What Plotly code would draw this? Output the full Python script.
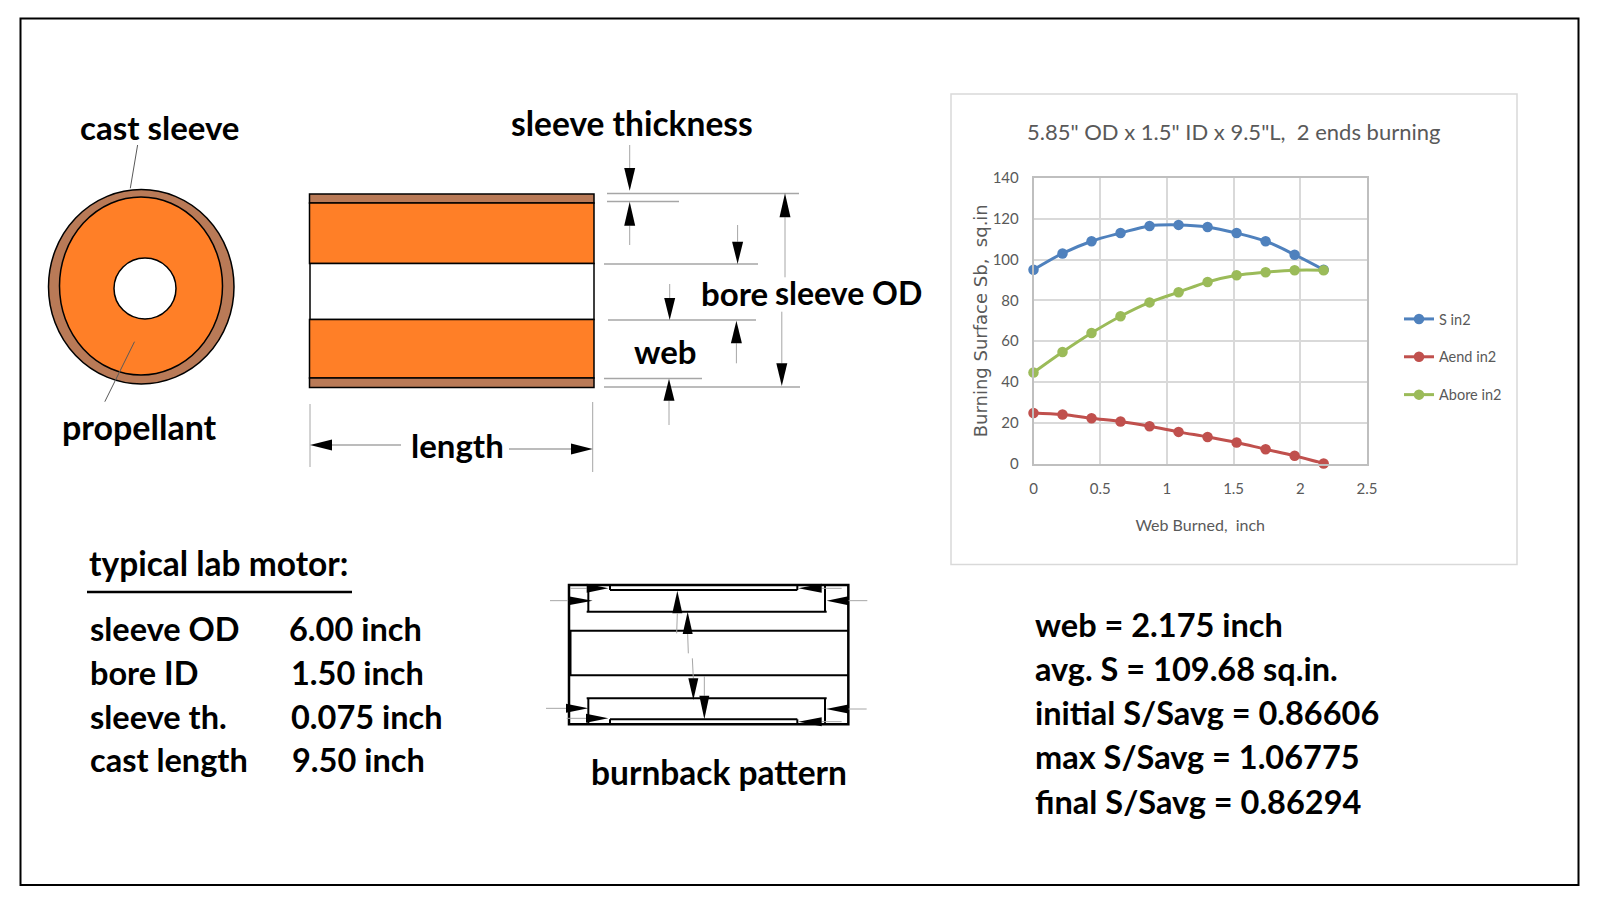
import plotly.graph_objects as go

web_burned = [0, 0.2175, 0.435, 0.6525, 0.87, 1.0875, 1.305, 1.5225, 1.74, 1.9575, 2.175]
s_in2 = [95, 103, 109, 113, 116.5, 117, 116, 113, 109, 102.4, 95]
aend_in2 = [24.8, 24, 22.2, 20.6, 18.3, 15.5, 13, 10.3, 7, 3.8, 0]
abore_in2 = [44.6, 54.7, 64, 72.2, 79, 84, 89, 92.3, 93.8, 94.8, 94.8]

series_names = ['S in2', 'Aend in2', 'Abore in2']
series_colors = ['#4F81BD', '#C0504D', '#9BBB59']

motor_rows = ['sleeve OD', 'bore ID', 'sleeve th.', 'cast length']
motor_values = ['6.00 inch', '1.50 inch', '0.075 inch', '9.50 inch']
result_lines = ['web = 2.175 inch', 'avg. S = 109.68 sq.in.', 'initial S/Savg = 0.86606',
                'max S/Savg = 1.06775', 'final S/Savg = 0.86294']

W, H = 1600, 912
ORANGE = '#FF7F27'
BROWN = '#B97A57'
GRAY = '#A6A6A6'
BOLD = 'Lato'
THIN = 'Lato'

shapes = []
annotations = []


def line(x0, y0, x1, y1, color='black', width=1.0):
    shapes.append(dict(type='line', xref='x2', yref='y2', x0=x0, y0=y0, x1=x1, y1=y1,
                       line=dict(color=color, width=width)))


def rect(x0, y0, x1, y1, fill='rgba(0,0,0,0)', color='black', width=1.5):
    shapes.append(dict(type='rect', xref='x2', yref='y2', x0=x0, y0=y0, x1=x1, y1=y1,
                       fillcolor=fill, line=dict(color=color, width=width)))


def ellipse(x0, y0, x1, y1, fill, color='black', width=1.5):
    shapes.append(dict(type='circle', xref='x2', yref='y2', x0=x0, y0=y0, x1=x1, y1=y1,
                       fillcolor=fill, line=dict(color=color, width=width)))


def vtri(x, tip, base, half=5.5):
    shapes.append(dict(type='path', xref='x2', yref='y2', fillcolor='black', line=dict(width=0),
                       path=f'M {x} {tip} L {x-half} {base} L {x+half} {base} Z'))


def htri(y, tip, base, half=5.5):
    shapes.append(dict(type='path', xref='x2', yref='y2', fillcolor='black', line=dict(width=0),
                       path=f'M {tip} {y} L {base} {y-half} L {base} {y+half} Z'))


def label(x, y, text, anchor='center', size=33):
    annotations.append(dict(xref='x2', yref='y2', x=x, y=y, text=text, showarrow=False,
                            xanchor=anchor, yanchor='middle',
                            font=dict(family=BOLD, size=size, color='black', weight='bold')))


# outer frame
rect(20.5, 18.5, 1578.5, 885, width=2)
# chart panel sits under the chart traces
shapes.append(dict(type='rect', xref='paper', yref='paper', layer='below',
                   x0=951 / W, x1=1517 / W, y0=1 - 564.5 / H, y1=1 - 94 / H,
                   fillcolor='white', line=dict(color='#D9D9D9', width=1.5)))

# end view of the motor
ellipse(48.5, 189.5, 234, 384, BROWN)
ellipse(59.5, 197, 222.5, 375, ORANGE)
ellipse(114, 258, 176, 319, 'white')
line(137.6, 145, 130.3, 188.3, '#595959')
line(134.5, 341.7, 104.8, 401.7, '#595959')

# side view of the motor
rect(309.5, 194, 594, 203, fill=BROWN)
rect(309.5, 203, 594, 263.5, fill=ORANGE)
rect(310, 263.5, 594, 319.5, fill='white')
rect(309.5, 319.5, 594, 378, fill=ORANGE)
rect(309.5, 378, 594, 387.5, fill=BROWN)

# dimension lines on the side view
line(607, 193.5, 799, 193.5, GRAY, 1.5)
line(607, 201.5, 679, 201.5, GRAY, 1.5)
line(604, 264, 758, 264, GRAY, 1.5)
line(608, 320, 756, 320, GRAY, 1.5)
line(604, 378.5, 702, 378.5, GRAY, 1.5)
line(604, 387, 800, 387, GRAY, 1.5)
line(629.7, 145, 629.7, 168, GRAY)
vtri(629.7, 190.7, 168)
line(629.7, 225.7, 629.7, 245, GRAY)
vtri(629.7, 201.7, 225.7)
line(737.6, 225, 737.6, 241.7, GRAY)
vtri(737.6, 264, 241.7)
line(669.7, 284, 669.7, 298, GRAY)
vtri(669.7, 320, 298)
line(736.4, 343.3, 736.4, 363.3, GRAY)
vtri(736.4, 320.7, 343.3)
line(785, 217.3, 785, 277.3, GRAY)
vtri(785, 193.3, 217.3)
line(781.8, 311.7, 781.8, 363.3, GRAY)
vtri(781.8, 386, 363.3)
line(669, 400.7, 669, 425, GRAY)
vtri(669, 378.7, 400.7)
line(310, 404, 310, 467, GRAY)
line(592.7, 402, 592.7, 472, GRAY)
line(332, 445, 401, 445, GRAY, 1.5)
htri(445, 310, 332)
line(509, 449, 571, 449, GRAY, 1.5)
htri(449, 592.7, 571)

label(159.5, 126.5, 'cast sleeve')
label(139.5, 426.5, 'propellant', size=34)
label(632, 122.5, 'sleeve thickness', size=33.5)
label(734.5, 292.5, 'bore')
label(848.5, 292.5, 'sleeve OD', size=32)
label(665.5, 350.5, 'web')
label(457.5, 444.5, 'length')

# typical lab motor table
label(87, 563, 'typical lab motor:', 'left', 33.5)
line(87, 592, 352, 592, 'black', 2.5)
row_y = [628, 672, 716, 759.5]
value_x = [287, 289, 289, 290]
for name, val, yy, xx in zip(motor_rows, motor_values, row_y, value_x):
    label(88, yy, name, 'left', 32.5)
    label(xx, yy, val, 'left', 32.5)

# burnback sketch, reads as crop pixels
def bx(v):
    return 540 + v / 3


def by(v):
    return 570 + v / 3


rect(bx(87), by(45), bx(925), by(463), width=2.5)
line(bx(87), by(182), bx(925), by(182), width=2)
line(bx(87), by(316), bx(925), by(316), width=2)
line(bx(90), by(182), bx(90), by(316), width=3)
line(bx(145), by(45), bx(145), by(125), width=2)
line(bx(140), by(125), bx(860), by(125), width=2)
line(bx(855), by(45), bx(855), by(125), width=2)
line(bx(210), by(45), bx(210), by(60), width=2)
line(bx(210), by(60), bx(772), by(60), width=2)
line(bx(772), by(45), bx(772), by(60), width=2)
line(bx(145), by(463), bx(145), by(385), width=2)
line(bx(140), by(385), bx(860), by(385), width=2)
line(bx(855), by(463), bx(855), by(385), width=2)
line(bx(210), by(463), bx(210), by(448), width=2)
line(bx(210), by(448), bx(772), by(448), width=2)
line(bx(772), by(463), bx(772), by(448), width=2)

for tip, base, yy, x0, x1 in [(205, 140, 55, 90, 140), (158, 85, 92, 30, 85),
                              (775, 845, 55, 845, 905), (860, 925, 92, 925, 982),
                              (145, 78, 415, 18, 78), (205, 138, 445, 80, 138),
                              (858, 925, 417, 925, 980), (775, 845, 455, 845, 905)]:
    line(bx(x0), by(yy), bx(x1), by(yy), GRAY)
    htri(by(yy), bx(tip), bx(base), 4.5)

vtri(bx(412), by(62), by(130), 5)
line(bx(412), by(130), bx(410), by(190), GRAY)
vtri(bx(443), by(125), by(192), 5)
line(bx(443), by(192), bx(445), by(250), GRAY)
line(bx(457), by(265), bx(460), by(325), GRAY)
vtri(bx(460), by(390), by(325), 5)
line(bx(493), by(318), bx(493), by(377), GRAY)
vtri(bx(493), by(448), by(377), 5)
label(719, 772, 'burnback pattern', size=33.5)

# results block
result_y = [624, 668, 712, 756, 801]
for txt, yy in zip(result_lines, result_y):
    label(1033, yy, txt, 'left', 32.5)

# chart title inside the panel
annotations.append(dict(xref='x2', yref='y2', x=1233, y=131.5, text='5.85" OD x 1.5" ID x 9.5"L,&nbsp; 2 ends burning',
                        showarrow=False, xanchor='center', yanchor='middle',
                        font=dict(family=THIN, size=22, color='#595959')))

fig = go.Figure()
for name, color, values in zip(series_names, series_colors, [s_in2, aend_in2, abore_in2]):
    fig.add_trace(go.Scatter(x=web_burned, y=values, name=name, mode='lines+markers', legendgroup=name,
                             cliponaxis=False,
                             line=dict(color=color, width=3, shape='spline'),
                             marker=dict(color=color, size=10.5, symbol='circle')))
# empty trace so the page wide drawing axes exist
fig.add_trace(go.Scatter(x=[], y=[], xaxis='x2', yaxis='y2', showlegend=False))

fig.update_layout(
    width=W, height=H, margin=dict(l=0, r=0, t=0, b=0, autoexpand=False),
    paper_bgcolor='white', plot_bgcolor='rgba(0,0,0,0)',
    font=dict(family=THIN, color='#595959', size=15),
    xaxis=dict(domain=[1033.5 / W, 1367 / W], range=[0, 2.5], dtick=0.5, showgrid=True, gridcolor='#D9D9D9',
               gridwidth=1.5, linecolor='#BFBFBF', linewidth=1.5, mirror=True, zeroline=False, ticks='',
               ticklabelstandoff=11,
               title=dict(text='Web Burned,&nbsp; inch', font=dict(size=16), standoff=24)),
    yaxis=dict(domain=[1 - 463.5 / H, 1 - 178 / H], range=[0, 140], dtick=20, showgrid=True, gridcolor='#D9D9D9',
               gridwidth=1.5, linecolor='#BFBFBF', linewidth=1.5, mirror=True, zeroline=False, ticks='',
               ticklabelstandoff=10,
               title=dict(text='Burning Surface Sb,&nbsp; sq.in', font=dict(family='DejaVu Sans', size=18), standoff=0)),
    xaxis2=dict(domain=[0, 1], range=[0, W], visible=False, anchor='y2'),
    yaxis2=dict(domain=[0, 1], range=[H, 0], visible=False, anchor='x2'),
    legend=dict(x=1399 / W, y=1 - 303 / H, xanchor='left', yanchor='top', tracegroupgap=16,
                bgcolor='rgba(0,0,0,0)', font=dict(family=THIN, size=14.5, color='#595959'), itemwidth=30),
    shapes=shapes, annotations=annotations, showlegend=True,
)

fig.write_html("out.html", post_script="document.body.style.margin='0';", config={'displayModeBar': False})
